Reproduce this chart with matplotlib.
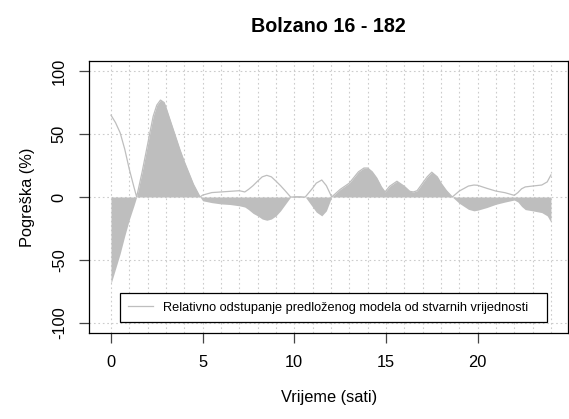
import numpy as np
import matplotlib.pyplot as plt

plt.rcParams['font.family'] = ['Liberation Sans', 'DejaVu Sans']
plt.rcParams['axes.unicode_minus'] = False

# hours of the day
sati = [0, 0.25, 0.5, 0.75, 1.0, 1.25, 1.4, 1.7, 2.0, 2.3, 2.5, 2.7, 2.9, 3.0,
        3.25, 3.5, 3.75, 4.0, 4.25, 4.5, 4.86, 5.0, 5.5, 6.0, 6.5, 7.0, 7.3,
        7.5, 7.75, 8.0, 8.25, 8.5, 8.75, 9.0, 9.25, 9.5, 9.8, 10.0, 10.3, 10.6,
        11.0, 11.2, 11.5, 11.75, 12.04, 12.5, 13.0, 13.5, 13.8, 14.0, 14.25,
        14.5, 14.75, 14.95, 15.2, 15.6, 16.0, 16.3, 16.5, 16.7, 17.0, 17.25,
        17.5, 17.8, 18.0, 18.3, 18.62, 19.0, 19.5, 19.8, 20.0, 20.5, 21.0,
        21.5, 22.0, 22.2, 22.4, 22.6, 23.0, 23.5, 23.8, 24.0]

# signed error (%) - filled area
pogreska = [-69, -57, -45, -31, -18, -7, 0, 20, 42, 64, 73, 77, 75, 71,
            60, 49, 38, 28, 19, 10, 0, -3, -4.5, -5.5, -6, -7, -8,
            -10, -13, -15, -17.5, -18.5, -17.5, -15, -11, -6, 0, 1, 1, 0,
            -8, -12, -15, -11, 0, 6, 11, 20, 23, 23, 20,
            15, 8, 4, 8.5, 12.5, 8.5, 4.5, 4, 5, 11, 16,
            19.7, 16, 11, 5, 0, -5, -9.8, -11, -10.5, -8.4, -5.8,
            -4, -2.4, -4, -7.5, -10, -11, -12.4, -15, -20]

# relative deviation of the model (%) - line
odstupanje = [65, 59, 51, 38, 22, 8, 0, 20, 42, 64, 73, 77, 75, 71,
              60, 49, 38, 28, 19, 10, 0, 1.5, 3.5, 4, 4.5, 5, 4,
              6, 9, 12.6, 16, 17.2, 16, 12.6, 9, 5, 0, 0, 0, 0,
              7, 11, 13.5, 9, 0, 6, 11, 20, 23, 23, 20,
              15, 8, 4, 8.5, 12.5, 8.5, 4.5, 4, 5, 11, 16,
              19.7, 16, 11, 5, 0, 4.7, 8.7, 9.5, 9.3, 6.9, 4.7,
              3.4, 1.3, 3.5, 6.5, 8, 8.7, 9.5, 12, 17.5]

fig = plt.figure(figsize=(5.69, 4.19), dpi=100)
ax = fig.add_axes([0.1564, 0.2053, 0.8424, 0.6491])

ax.fill_between(sati, pogreska, 0, color='#bebebe', linewidth=0, zorder=2)
ax.plot(sati, odstupanje, color='#bebebe', linewidth=0.9, zorder=3,
        label='Relativno odstupanje predloženog modela od stvarnih vrijednosti')

ax.set_xlim(-1.2, 24.95)
ax.set_ylim(-108, 108)
ax.set_xticks([0, 5, 10, 15, 20])
ax.set_xticks(range(25), minor=True)
ax.set_yticks([-100, -50, 0, 50, 100])

ax.grid(True, which='both', axis='x', color='#cccccc', linestyle=(0, (1.5, 2.5)),
        linewidth=0.8, zorder=1)
ax.grid(True, which='major', axis='y', color='#cccccc', linestyle=(0, (1.5, 2.5)),
        linewidth=0.8, zorder=1)
ax.set_axisbelow(True)

ax.tick_params(which='major', length=7, width=0.9, color='#444444',
               labelsize=11.8, pad=9)
ax.tick_params(which='minor', length=0)
ax.tick_params(axis='y', labelrotation=90)
for t in ax.get_yticklabels():
    t.set_va('center')

for s in ax.spines.values():
    s.set_color('black')
    s.set_linewidth(0.9)

ax.set_title('Bolzano 16 - 182', fontsize=14.2, fontweight='bold', pad=21)
ax.set_xlabel('Vrijeme (sati)', fontsize=11.8, labelpad=14)
ax.set_ylabel('Pogreška (%)', fontsize=11.8, labelpad=12)

leg = ax.legend(loc='lower left', bbox_to_anchor=(0.0647, 0.0404, 0.891, 0.114),
                mode='expand', borderaxespad=0, fontsize=9.2, fancybox=False,
                edgecolor='black', framealpha=1, handlelength=1.9,
                handletextpad=0.85, borderpad=0.65)
leg.get_frame().set_linewidth(0.9)

fig.savefig('out.png', dpi=100)
